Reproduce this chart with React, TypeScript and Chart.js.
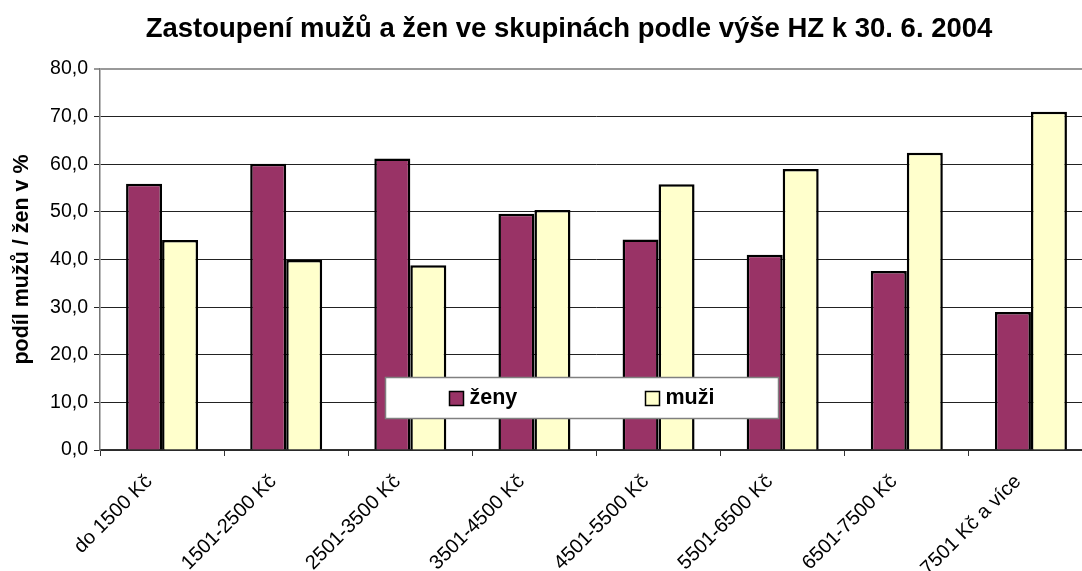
import React, { useEffect, useRef } from "react";
import { Chart, registerables } from "chart.js";

Chart.register(...registerables);

const categories = [
  "do 1500 Kč",
  "1501-2500 Kč",
  "2501-3500 Kč",
  "3501-4500 Kč",
  "4501-5500 Kč",
  "5501-6500 Kč",
  "6501-7500 Kč",
  "7501 Kč a více",
];
const zeny = [55.9, 60.1, 61.2, 49.6, 44.2, 41.0, 37.6, 29.0];
const muzi = [44.1, 39.9, 38.8, 50.4, 55.8, 59.0, 62.4, 71.0];
const seriesNames = ["ženy", "muži"];
const titleText = "Zastoupení mužů a žen ve skupinách podle výše HZ k 30. 6. 2004";
const yTitle = "podíl mužů / žen v %";

const FONT = "'Liberation Sans', Arial, sans-serif";

const titlePlugin = {
  id: "customTitle",
  afterDraw(chart: any) {
    const ctx = chart.ctx;
    ctx.save();
    ctx.font = `bold 27.5px ${FONT}`;
    ctx.fillStyle = "#000";
    ctx.textAlign = "center";
    ctx.textBaseline = "middle";
    ctx.fillText(titleText, 569, 29);
    ctx.restore();
  },
};

const legendPlugin = {
  id: "customLegend",
  afterDatasetsDraw(chart: any) {
    const ctx = chart.ctx;
    const ca = chart.chartArea;
    const bx = ca.left + 285.5;
    const by = ca.top + 308.5;
    ctx.save();
    ctx.fillStyle = "#fff";
    ctx.fillRect(bx, by, 393, 41);
    ctx.strokeStyle = "#808080";
    ctx.lineWidth = 1.5;
    ctx.strokeRect(bx, by, 393, 41);
    const offsets = [64, 260];
    chart.data.datasets.forEach((ds: any, i: number) => {
      const sx = bx + offsets[i];
      const sy = by + 14;
      ctx.fillStyle = ds.backgroundColor;
      ctx.fillRect(sx, sy, 14, 14);
      ctx.strokeStyle = "#000";
      ctx.lineWidth = 1.5;
      ctx.strokeRect(sx, sy, 14, 14);
      ctx.fillStyle = "#000";
      ctx.font = `bold 21.5px ${FONT}`;
      ctx.textAlign = "left";
      ctx.textBaseline = "middle";
      ctx.fillText(ds.label, sx + 20, sy + 7);
    });
    ctx.restore();
  },
};

export default function App() {
  const ref = useRef<HTMLCanvasElement | null>(null);
  useEffect(() => {
    if (!ref.current) return;
    const chart = new Chart(ref.current, {
      type: "bar",
      data: {
        labels: categories,
        datasets: [
          {
            label: seriesNames[0],
            data: zeny,
            backgroundColor: "#993366",
            borderColor: "#000",
            borderWidth: 2.5,
            categoryPercentage: 0.58,
            barPercentage: 1,
          },
          {
            label: seriesNames[1],
            data: muzi,
            backgroundColor: "#FFFFCC",
            borderColor: "#000",
            borderWidth: 2.5,
            categoryPercentage: 0.58,
            barPercentage: 1,
          },
        ],
      },
      options: {
        responsive: false,
        animation: false,
        devicePixelRatio: 1,
        layout: { padding: { left: 0, right: 17, top: 69, bottom: 0 } },
        plugins: {
          legend: { display: false },
          title: { display: false },
          tooltip: { enabled: false },
        },
        scales: {
          x: {
            grid: {
              drawOnChartArea: false,
              drawTicks: true,
              tickLength: 6,
              color: "#333",
              offset: true,
            },
            border: { color: "#333", width: 1.5 },
            ticks: {
              minRotation: 45,
              maxRotation: 45,
              autoSkip: false,
              color: "#000",
              padding: 14,
              labelOffset: -13,
              font: { family: FONT, size: 20 },
            },
            afterFit: (scale: any) => {
              scale.height = 121;
            },
          },
          y: {
            min: 0,
            max: 80,
            ticks: {
              stepSize: 10,
              color: "#000",
              padding: 6,
              font: { family: FONT, size: 19.5 },
              callback: (v: any) => Number(v).toFixed(1).replace(".", ","),
            },
            grid: {
              color: (c: any) => (c.tick && c.tick.value === 80 ? "#999" : "#222"),
              lineWidth: (c: any) => (c.tick && c.tick.value === 80 ? 2 : 1),
              tickLength: 6,
            },
            border: { color: "#777", width: 1.5 },
            title: {
              display: true,
              text: yTitle,
              color: "#000",
              font: { family: FONT, size: 21.5, weight: "bold" },
              padding: { top: 9, bottom: 0 },
            },
            afterFit: (scale: any) => {
              scale.width = 100;
            },
          },
        },
      },
      plugins: [titlePlugin, legendPlugin],
    });
    return () => chart.destroy();
  }, []);
  return (
    <div
      style={{
        position: "absolute",
        left: 0,
        top: 0,
        width: 1082,
        height: 571,
        overflow: "hidden",
        background: "#fff",
      }}
    >
      <canvas ref={ref} width={1110} height={571} style={{ width: 1110, height: 571, display: "block" }} />
    </div>
  );
}
